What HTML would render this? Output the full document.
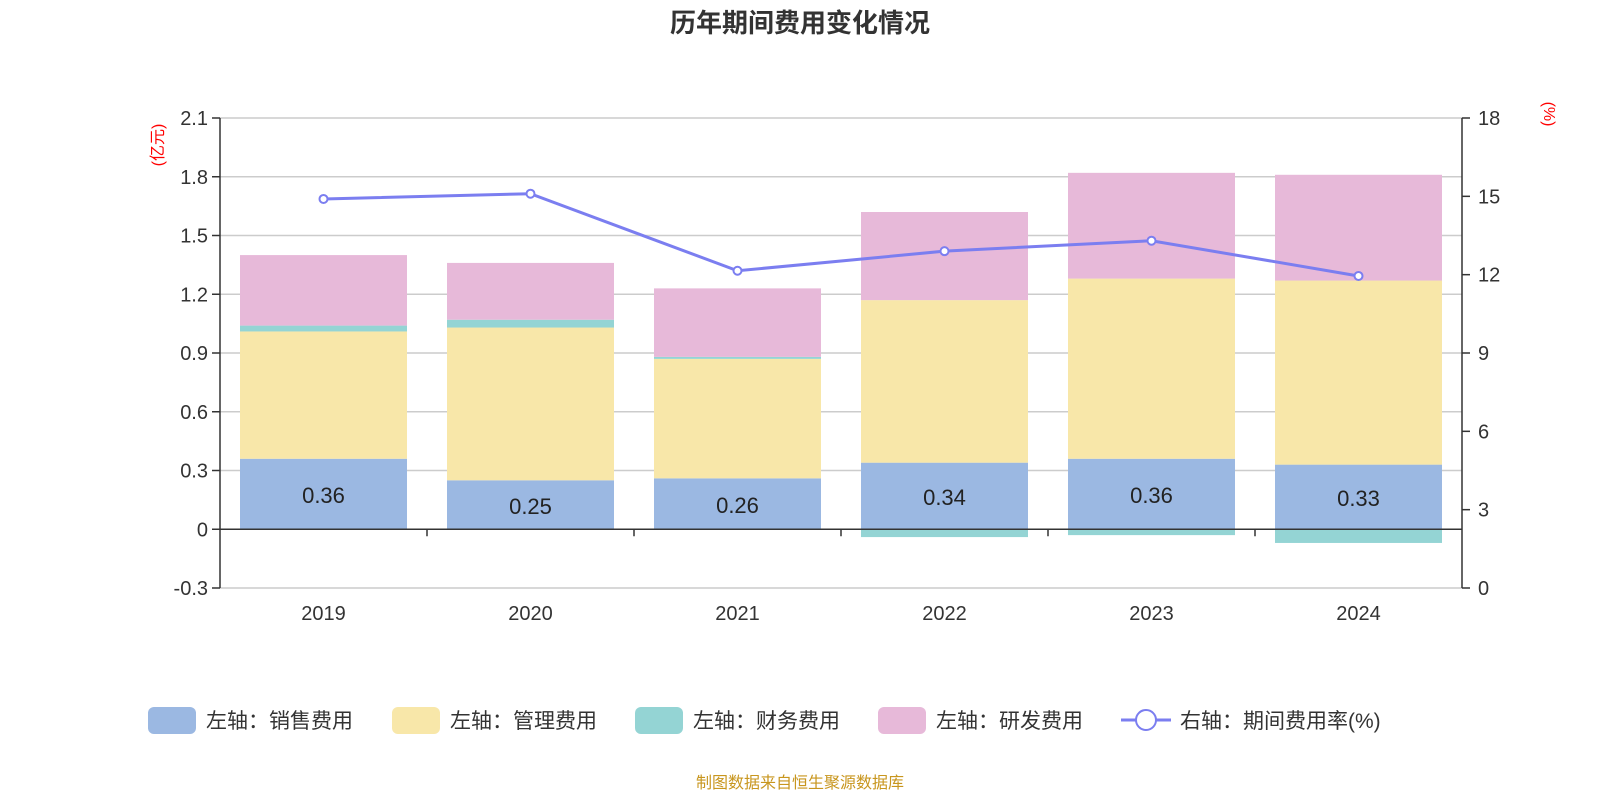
<!DOCTYPE html>
<html><head><meta charset="utf-8"><style>
body{margin:0;background:#fff;}
svg text{font-family:"Liberation Sans","Noto Sans CJK SC",sans-serif;}
</style></head><body>
<svg id="c" width="1600" height="800" xmlns="http://www.w3.org/2000/svg">
<text x="800" y="32" text-anchor="middle" font-size="26" font-weight="bold" fill="#333">历年期间费用变化情况</text>
<g id="grid"></g><g id="bars"></g><g id="axes"></g><g id="line"></g>
<text transform="translate(163,145) rotate(-90)" text-anchor="middle" font-size="16" fill="#f00">(亿元)</text>
<text transform="translate(1544,114) rotate(90)" text-anchor="middle" font-size="16" fill="#f00">(%)</text>
<g id="legend"></g>
<text x="800" y="788" text-anchor="middle" font-size="16" fill="#c8961e">制图数据来自恒生聚源数据库</text>
</svg>
<script>
const years=['2019','2020','2021','2022','2023','2024'];
const sales=[0.36,0.25,0.26,0.34,0.36,0.33];
const mgmt=[0.65,0.78,0.61,0.83,0.92,0.94];
const fin=[0.03,0.04,0.01,-0.04,-0.03,-0.07];
const rd=[0.36,0.29,0.35,0.45,0.54,0.54];
const rate=[14.9,15.1,12.15,12.9,13.3,11.95];
const leftTicks=[-0.3,0,0.3,0.6,0.9,1.2,1.5,1.8,2.1];
const rightTicks=[0,3,6,9,12,15,18];
const NS='http://www.w3.org/2000/svg';
const X0=220,X1=1462,YT=118,YB=588;
const yL=v=>YB-(v+0.3)/2.4*(YB-YT);
const yR=v=>YB-v/18*(YB-YT);
const cw=(X1-X0)/years.length;
const xC=i=>X0+cw*(i+0.5);
function mk(tag,attrs,parent,text){const e=document.createElementNS(NS,tag);for(const k in attrs)e.setAttribute(k,attrs[k]);if(text!==undefined)e.textContent=text;document.getElementById(parent).appendChild(e);return e;}
leftTicks.forEach(t=>{
 const g=mk('line',{x1:X0,x2:X1,y1:yL(t),y2:yL(t),stroke:'#ccc','stroke-width':1.5},'grid');
 
 const tk=mk('line',{x1:X0-8,x2:X0,y1:yL(t),y2:yL(t),stroke:'#333','stroke-width':1.5},'axes');
 
 const l=mk('text',{x:X0-12,y:yL(t)+7,'text-anchor':'end','font-size':20,fill:'#333'},'axes',String(t));
 
});
rightTicks.forEach(t=>{
 const tk=mk('line',{x1:X1,x2:X1+8,y1:yR(t),y2:yR(t),stroke:'#333','stroke-width':1.5},'axes');
 
 const l=mk('text',{x:X1+16,y:yR(t)+7,'font-size':20,fill:'#333'},'axes',String(t));
 
});
let a=mk('line',{x1:X0,x2:X0,y1:YT,y2:YB,stroke:'#333','stroke-width':1.5},'axes');

a=mk('line',{x1:X1,x2:X1,y1:YT,y2:YB,stroke:'#333','stroke-width':1.5},'axes');

a=mk('line',{x1:X0,x2:X1,y1:yL(0),y2:yL(0),stroke:'#333','stroke-width':1.5},'axes');

const series=[[sales,'#9bb8e2','sales'],[mgmt,'#f8e7a9','mgmt'],[fin,'#94d4d4','finance'],[rd,'#e7b9d9','rd']];
const bw=167;
years.forEach((y,i)=>{
 if(i>0){const t=mk('line',{x1:X0+cw*i,x2:X0+cw*i,y1:yL(0),y2:yL(0)+7,stroke:'#333','stroke-width':1.5},'axes');}
 const l=mk('text',{x:xC(i),y:620,'text-anchor':'middle','font-size':20,fill:'#333'},'axes',y);
 
 let pos=0,neg=0;
 series.forEach(([arr,col,nm])=>{
  const v=arr[i];let a0,a1;
  if(v>=0){a0=pos;a1=pos+v;pos=a1;}else{a0=neg;a1=neg+v;neg=a1;}
  const top=Math.min(yL(a0),yL(a1)),h=Math.abs(yL(a1)-yL(a0));
  const r=mk('rect',{x:xC(i)-bw/2,y:top,width:bw,height:h,fill:col},'bars');
  
 });
 const t=mk('text',{x:xC(i),y:(yL(0)+yL(sales[i]))/2+9,'text-anchor':'middle','font-size':22,fill:'#222'},'bars',sales[i].toFixed(2));
 
});
const pts=rate.map((v,i)=>xC(i)+','+yR(v)).join(' ');
const pl=mk('polyline',{points:pts,fill:'none',stroke:'#7b7ef0','stroke-width':3},'line');

rate.forEach((v,i)=>{const c=mk('circle',{cx:xC(i),cy:yR(v),r:4,fill:'#fff',stroke:'#7b7ef0','stroke-width':2},'line');});
const leg=[['左轴：销售费用','#9bb8e2',148],['左轴：管理费用','#f8e7a9',392],['左轴：财务费用','#94d4d4',635],['左轴：研发费用','#e7b9d9',878]];
leg.forEach(([t,c,x])=>{
 const g=mk('g',{},'legend');
 const r=document.createElementNS(NS,'rect');r.setAttribute('x',x);r.setAttribute('y',707);r.setAttribute('width',48);r.setAttribute('height',27);r.setAttribute('rx',6);r.setAttribute('fill',c);g.appendChild(r);
 const tx=document.createElementNS(NS,'text');tx.setAttribute('x',x+58);tx.setAttribute('y',728);tx.setAttribute('font-size',21);tx.setAttribute('fill','#333');tx.textContent=t;g.appendChild(tx);
});
const lg=mk('g',{},'legend');
lg.innerHTML='<line x1="1121" x2="1171" y1="720" y2="720" stroke="#7b7ef0" stroke-width="3"/><circle cx="1146" cy="720" r="10" fill="#fff" stroke="#7b7ef0" stroke-width="2"/><text x="1180" y="728" font-size="21" fill="#333">右轴：期间费用率(%)</text>';
</script>
</body></html>
